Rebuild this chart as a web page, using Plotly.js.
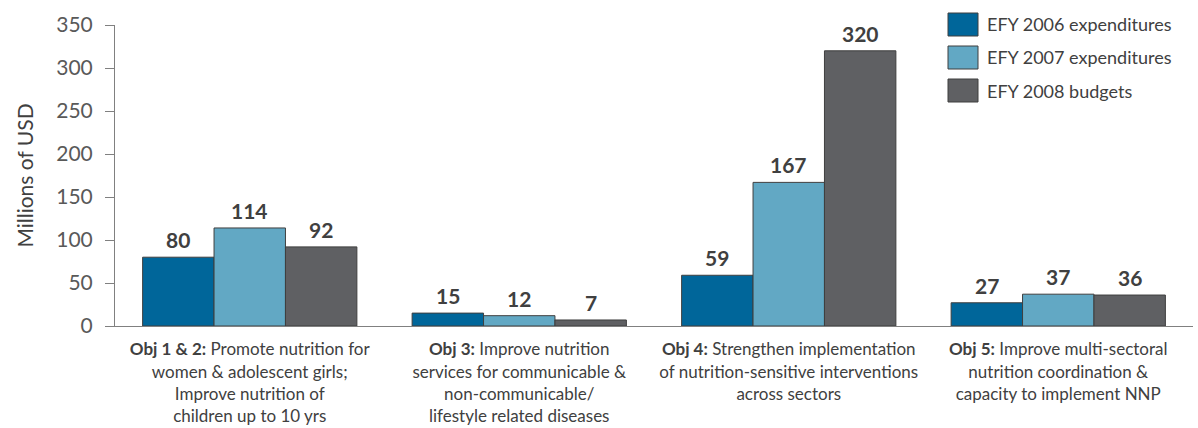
<!DOCTYPE html>
<html>
<head>
<meta charset="utf-8">
<script src="https://cdn.plot.ly/plotly-3.0.1.min.js"></script>
<style>
html,body{margin:0;padding:0;background:#fff;}
#chart{width:1198px;height:428px;}
</style>
</head>
<body>
<div id="chart"></div>
<script>
// ---- Data ----
const categories = [
  "<b>Obj 1 &amp; 2:</b> Promote nutrition for<br>women &amp; adolescent girls;<br>Improve nutrition of<br>children up to 10 yrs",
  "<b>Obj 3:</b> Improve nutrition<br>services for communicable &amp;<br>non-communicable/<br>lifestyle related diseases",
  "<b>Obj 4:</b> Strengthen implementation<br>of nutrition-sensitive interventions<br>across sectors",
  "<b>Obj 5:</b> Improve multi-sectoral<br>nutrition coordination &amp;<br>capacity to implement NNP"
];
const seriesNames = ["EFY 2006 expenditures", "EFY 2007 expenditures", "EFY 2008 budgets"];
const efy2006 = [80, 15, 59, 27];
const efy2007 = [114, 12, 167, 37];
const efy2008 = [92, 7, 320, 36];
const seriesValues = [efy2006, efy2007, efy2008];
const seriesColors = ["#00669A", "#62A8C4", "#5F6063"];
const yTickVals = [0, 50, 100, 150, 200, 250, 300, 350];

// ---- Layout constants ----
const W = 1198, H = 428;
const M = {l: 115, r: 5, t: 25, b: 102};
const plotW = W - M.l - M.r, plotH = H - M.t - M.b;
const bargap = 0.205;
const FONT = "Lato, 'Open Sans', sans-serif";
const nCat = categories.length;
const catPx = plotW / nCat;
const barPx = catPx * (1 - bargap) / seriesValues.length;

const traces = seriesValues.map((vals, i) => ({
  type: "bar",
  name: seriesNames[i],
  x: categories,
  y: vals,
  marker: {color: seriesColors[i], line: {color: "#3F3F3F", width: 1}},
  showlegend: false,
  hoverinfo: "y"
}));

// Data labels via annotations anchored on data coordinates
const annotations = [];
seriesValues.forEach((vals, i) => {
  vals.forEach((v, j) => {
    annotations.push({
      x: categories[j], y: v, xref: "x", yref: "y",
      text: "<b>" + v + "</b>",
      showarrow: false,
      yanchor: "bottom",
      xshift: (i - (seriesValues.length - 1) / 2) * barPx,
      yshift: 3,
      font: {family: FONT, size: 21, color: "#404040"}
    });
  });
});

// Custom legend (layout element)
const px2x = px => (px - M.l) / plotW;
const px2y = py => (H - M.b - py) / plotH;
const shapes = [];
const legTop = [13, 46, 79];
seriesNames.forEach((name, i) => {
  shapes.push({
    type: "rect", xref: "paper", yref: "paper",
    x0: px2x(948), x1: px2x(978),
    y0: px2y(legTop[i] + 23), y1: px2y(legTop[i]),
    fillcolor: seriesColors[i],
    line: {color: "#3F3F3F", width: 1}
  });
  annotations.push({
    xref: "paper", yref: "paper",
    x: px2x(985), y: px2y(legTop[i] + 11.5),
    xanchor: "left", yanchor: "middle",
    text: name, showarrow: false,
    font: {family: FONT, size: 18, color: "#404040"}
  });
});

const layout = {
  width: W, height: H,
  margin: M,
  paper_bgcolor: "#ffffff",
  plot_bgcolor: "#ffffff",
  barmode: "group",
  bargap: bargap,
  bargroupgap: 0,
  showlegend: false,
  font: {family: FONT, color: "#404040"},
  xaxis: {
    type: "category",
    range: [-0.5, nCat - 0.5],
    showline: true, linecolor: "#808080", linewidth: 1,
    ticks: "", showgrid: false, zeroline: false,
    ticklabelstandoff: 8,
    tickfont: {family: FONT, size: 17, color: "#404040"},
    fixedrange: true
  },
  yaxis: {
    range: [0, 350],
    tickvals: yTickVals,
    ticktext: yTickVals.map(String),
    showline: true, linecolor: "#808080", linewidth: 1,
    ticks: "outside", ticklen: 9, tickcolor: "#808080", tickwidth: 1,
    ticklabelstandoff: 8,
    showgrid: false, zeroline: false,
    tickfont: {family: FONT, size: 21, color: "#595959"},
    title: {text: "Millions of USD", font: {family: FONT, size: 21, color: "#404040"}, standoff: 16},
    fixedrange: true
  },
  annotations: annotations,
  shapes: shapes
};

Plotly.newPlot("chart", traces, layout, {displayModeBar: false, staticPlot: true});
</script>
</body>
</html>
